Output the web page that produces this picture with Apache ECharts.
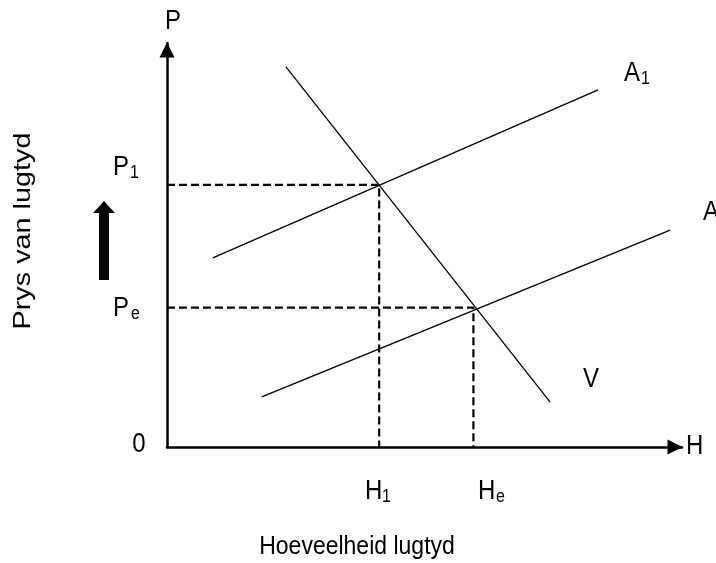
<!DOCTYPE html>
<html>
<head>
<meta charset="utf-8">
<script src="https://cdn.jsdelivr.net/npm/echarts@6/dist/echarts.min.js"></script>
<style>
html, body { margin: 0; padding: 0; background: #fff; }
#main { width: 716px; height: 563px; }
</style>
</head>
<body>
<div id="main"></div>
<script>
// curve end points [hoeveelheid, prys]
var demandV  = [[2.31, 9.41], [7.44, 1.11]];
var supplyA  = [[1.84, 1.24], [9.77, 5.37]];
var supplyA1 = [[0.89, 4.68], [8.37, 8.84]];
// equilibrium points
var eqNew = [4.12, 6.49];   // H1, P1
var eqOld = [5.95, 3.45];   // He, Pe
var guideNew = [[0, eqNew[1]], eqNew, [eqNew[0], 0]];
var guideOld = [[0, eqOld[1]], eqOld, [eqOld[0], 0]];

var FONT = '"Liberation Sans", Arial, sans-serif';
var myChart = echarts.init(document.getElementById('main'));

// text is a little taller than wide in the original picture
function txt(x, y, s, size, align, sy) {
    return {
        type: 'text', x: x, y: y, scaleY: sy || 1.15, silent: true,
        style: { text: s, font: size + 'px ' + FONT, fill: '#000',
                 align: align || 'left', verticalAlign: 'middle' }
    };
}
function solid(data) {
    return { type: 'line', data: data, symbol: 'none', silent: true,
             lineStyle: { color: '#000', width: 1.3 } };
}
function dashed(data) {
    return { type: 'line', data: data, symbol: 'none', silent: true,
             lineStyle: { color: '#000', width: 2.2, type: [8, 4] } };
}

var axisCommon = {
    type: 'value', min: 0, max: 10,
    axisLine: { show: true, symbol: ['none', 'triangle'], symbolSize: [15, 15],
                symbolOffset: [0, -7], lineStyle: { color: '#000', width: 2.5 } },
    axisTick: { show: false }, axisLabel: { show: false }, splitLine: { show: false }
};

var option = {
    animation: false,
    backgroundColor: '#fff',
    grid: { left: 167, top: 43, right: 34, bottom: 116 },
    xAxis: axisCommon,
    yAxis: axisCommon,
    series: [
        dashed(guideNew),
        dashed(guideOld),
        solid(demandV),
        solid(supplyA),
        solid(supplyA1)
    ],
    graphic: [
        txt(173, 21, 'P', 24, 'center'),
        txt(686, 446, 'H', 24),
        txt(139, 444, '0', 24, 'center'),
        txt(113, 167, 'P', 24), txt(130, 173, '1', 16),
        txt(113, 308, 'P', 24), txt(131, 314, 'e', 16),
        txt(365, 491, 'H', 24), txt(382, 497, '1', 16),
        txt(478, 491, 'H', 24), txt(496, 497, 'e', 16),
        txt(624, 73, 'A', 24), txt(641, 79, '1', 16),
        txt(703, 212, 'A', 24),
        txt(591, 379, 'V', 24, 'center'),
        txt(357, 547, 'Hoeveelheid lugtyd', 23, 'center'),
        {
            type: 'text', x: 23, y: 231, rotation: Math.PI / 2, scaleX: 1.2, silent: true,
            style: { text: 'Prys van lugtyd', font: '24px ' + FONT, fill: '#000',
                     align: 'center', verticalAlign: 'middle' }
        },
        {
            type: 'polygon', silent: true,
            shape: { points: [[104, 201], [115, 213], [109, 213], [109, 280],
                              [99, 280], [99, 213], [93, 213]] },
            style: { fill: '#000' }
        }
    ]
};

myChart.setOption(option);
</script>
</body>
</html>
